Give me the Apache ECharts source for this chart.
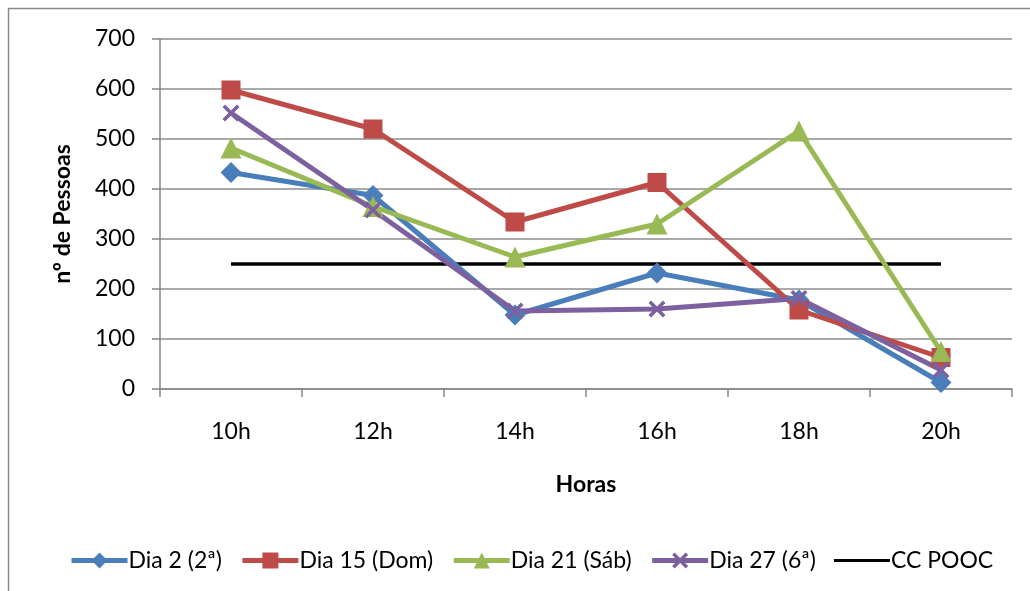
<!DOCTYPE html>
<html><head><meta charset="utf-8">
<script src="https://cdn.jsdelivr.net/npm/echarts@6/dist/echarts.min.js"></script>
<style>html,body{margin:0;padding:0;background:#fff}#c{width:1030px;height:591px}</style>
</head><body><div id="c"></div>
<script>
const categories = ['10h','12h','14h','16h','18h','20h'];
const dia2  = [433, 387, 148, 232, 178, 13];
const dia15 = [598, 520, 334, 413, 158, 63];
const dia21 = [482, 365, 264, 330, 516, 75];
const dia27 = [552, 358, 156, 160, 181, 38];
const ccPooc = [250, 250, 250, 250, 250, 250];
const yTicks = [0,100,200,300,400,500,600,700];

const FONT = 'Lato';
const xPath = 'path://M0,1.5L1.5,0L5,3.5L8.5,0L10,1.5L6.5,5L10,8.5L8.5,10L5,6.5L1.5,10L0,8.5L3.5,5Z';
const blackLineIcon = 'path://M0,0L0.01,0L0,0.01Z M0,7.5H56V10.5H0Z M56,18L55.99,18L56,17.99Z';
function s(name, data, color, symbol, size){
  return {name, type:'line', data, symbol, symbolSize:size,
    lineStyle:{color, width:5}, itemStyle:{color}, emphasis:{disabled:true}, z:3};
}
const chart = echarts.init(document.getElementById('c'));
chart.setOption({
  animation:false,
  textStyle:{fontFamily:FONT},
  graphic:[{type:'rect', shape:{x:8.5,y:8.5,width:1040,height:600}, style:{fill:null, stroke:'#8a8a8a', lineWidth:1.5}, silent:true}],
  grid:{left:160, right:18, top:39, bottom:202},
  xAxis:{type:'category', data:categories, boundaryGap:true,
    axisLine:{lineStyle:{color:'#868686', width:1.5}},
    axisTick:{show:true, length:8, alignWithLabel:false, lineStyle:{color:'#868686', width:1.5}},
    axisLabel:{color:'#000', fontSize:23, margin:31, fontFamily:FONT},
    name:'Horas', nameLocation:'middle', nameGap:84,
    nameTextStyle:{color:'#000', fontSize:23, fontWeight:'bold', fontFamily:FONT}},
  yAxis:{type:'value', min:0, max:700, interval:100,
    axisLine:{show:true, lineStyle:{color:'#868686', width:1.5}},
    axisTick:{show:true, length:8, lineStyle:{color:'#868686', width:1.5}},
    splitLine:{lineStyle:{color:'#8c8c8c', width:1.5}},
    axisLabel:{color:'#000', fontSize:23, margin:25, fontFamily:FONT,
      formatter:v=>yTicks.includes(v)?String(v):''},
    name:'nº de Pessoas', nameLocation:'middle', nameGap:86,
    nameTextStyle:{color:'#000', fontSize:23, fontWeight:'bold', fontFamily:FONT}},
  legend:{bottom:14, left:64, itemWidth:56, itemHeight:20, itemGap:18,
    lineStyle:{width:5},
    textStyle:{color:'#000', fontSize:23, fontFamily:FONT, padding:[0,0,0,-4]},
    data:['Dia 2 (2ª)','Dia 15 (Dom)','Dia 21 (Sáb)','Dia 27 (6ª)',
      {name:'CC POOC', icon:blackLineIcon}]},
  series:[
    s('Dia 2 (2ª)', dia2, '#4A7EBB', 'diamond', 21),
    s('Dia 15 (Dom)', dia15, '#BE4B48', 'rect', 19),
    s('Dia 21 (Sáb)', dia21, '#98B954', 'triangle', 21),
    s('Dia 27 (6ª)', dia27, '#7D60A0', xPath, 17),
    {name:'CC POOC', type:'line', data:ccPooc, symbol:'none', showSymbol:false,
      lineStyle:{color:'#000', width:3.5}, itemStyle:{color:'#000'}, z:2}
  ]
});
</script></body></html>
